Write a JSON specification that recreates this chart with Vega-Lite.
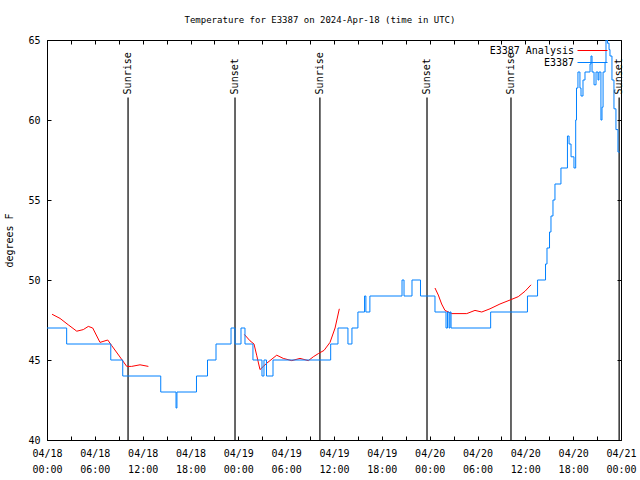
{
  "$schema": "https://vega.github.io/schema/vega-lite/v6.json",
  "width": 574,
  "height": 400,
  "autosize": {"type": "none"},
  "padding": {"left": 47, "top": 40, "right": 19, "bottom": 40},
  "background": "white",
  "title": {"text": "Temperature for E3387 on 2024-Apr-18 (time in UTC)", "font": "DejaVu Sans Mono", "fontSize": 9, "fontWeight": "normal", "color": "black", "anchor": "middle", "offset": 10, "dx": -14},
  "config": {
    "view": {"stroke": "black", "strokeWidth": 1},
    "axis": {"domainColor": "black", "tickColor": "black", "tickSize": -4, "labelColor": "black", "labelFont": "DejaVu Sans Mono", "labelFontSize": 10, "titleFont": "DejaVu Sans Mono", "titleFontSize": 10, "titleFontWeight": "normal", "titleColor": "black", "grid": false, "labelFlush": false, "labelOverlap": false, "labelBound": false},
    "legend": {"symbolType": "M-2.5,0H2.5M3.67,0", "symbolSize": 144, "symbolStrokeWidth": 1, "symbolFillColor": "transparent", "labelAlign": "right", "labelOffset": -25, "labelFont": "DejaVu Sans Mono", "labelFontSize": 10, "labelColor": "black", "rowPadding": 0, "padding": 0}
  },
  "datasets": {
    "blue": [
      {"s": "E3387", "t": "2024-04-18T00:00:00Z", "v": 47}, {"s": "E3387", "t": "2024-04-18T02:28:00Z", "v": 46}, {"s": "E3387", "t": "2024-04-18T08:00:00Z", "v": 45}, {"s": "E3387", "t": "2024-04-18T09:30:00Z", "v": 44},
      {"s": "E3387", "t": "2024-04-18T14:16:00Z", "v": 43}, {"s": "E3387", "t": "2024-04-18T16:11:00Z", "v": 42}, {"s": "E3387", "t": "2024-04-18T16:18:00Z", "v": 43}, {"s": "E3387", "t": "2024-04-18T18:45:00Z", "v": 44},
      {"s": "E3387", "t": "2024-04-18T20:08:00Z", "v": 45}, {"s": "E3387", "t": "2024-04-18T21:12:00Z", "v": 46}, {"s": "E3387", "t": "2024-04-18T23:05:00Z", "v": 47}, {"s": "E3387", "t": "2024-04-18T23:35:00Z", "v": 46},
      {"s": "E3387", "t": "2024-04-19T00:20:00Z", "v": 47}, {"s": "E3387", "t": "2024-04-19T00:50:00Z", "v": 46}, {"s": "E3387", "t": "2024-04-19T01:50:00Z", "v": 45}, {"s": "E3387", "t": "2024-04-19T02:58:00Z", "v": 44},
      {"s": "E3387", "t": "2024-04-19T03:13:00Z", "v": 45}, {"s": "E3387", "t": "2024-04-19T03:32:00Z", "v": 44}, {"s": "E3387", "t": "2024-04-19T04:21:00Z", "v": 45}, {"s": "E3387", "t": "2024-04-19T11:35:00Z", "v": 46},
      {"s": "E3387", "t": "2024-04-19T12:30:00Z", "v": 47}, {"s": "E3387", "t": "2024-04-19T13:45:00Z", "v": 46}, {"s": "E3387", "t": "2024-04-19T14:15:00Z", "v": 47}, {"s": "E3387", "t": "2024-04-19T15:00:00Z", "v": 48},
      {"s": "E3387", "t": "2024-04-19T15:50:00Z", "v": 49}, {"s": "E3387", "t": "2024-04-19T16:00:00Z", "v": 48}, {"s": "E3387", "t": "2024-04-19T16:30:00Z", "v": 49}, {"s": "E3387", "t": "2024-04-19T20:32:00Z", "v": 50},
      {"s": "E3387", "t": "2024-04-19T20:47:00Z", "v": 49}, {"s": "E3387", "t": "2024-04-19T21:47:00Z", "v": 50}, {"s": "E3387", "t": "2024-04-19T22:51:00Z", "v": 49}, {"s": "E3387", "t": "2024-04-20T00:40:00Z", "v": 48},
      {"s": "E3387", "t": "2024-04-20T02:03:00Z", "v": 47}, {"s": "E3387", "t": "2024-04-20T02:14:00Z", "v": 48}, {"s": "E3387", "t": "2024-04-20T02:26:00Z", "v": 47}, {"s": "E3387", "t": "2024-04-20T02:33:00Z", "v": 48},
      {"s": "E3387", "t": "2024-04-20T02:41:00Z", "v": 47}, {"s": "E3387", "t": "2024-04-20T07:39:00Z", "v": 48}, {"s": "E3387", "t": "2024-04-20T12:16:00Z", "v": 49}, {"s": "E3387", "t": "2024-04-20T13:32:00Z", "v": 50},
      {"s": "E3387", "t": "2024-04-20T14:32:00Z", "v": 51}, {"s": "E3387", "t": "2024-04-20T14:43:00Z", "v": 52}, {"s": "E3387", "t": "2024-04-20T15:02:00Z", "v": 53}, {"s": "E3387", "t": "2024-04-20T15:13:00Z", "v": 54},
      {"s": "E3387", "t": "2024-04-20T15:28:00Z", "v": 55}, {"s": "E3387", "t": "2024-04-20T15:43:00Z", "v": 56}, {"s": "E3387", "t": "2024-04-20T16:28:00Z", "v": 57}, {"s": "E3387", "t": "2024-04-20T17:17:00Z", "v": 59},
      {"s": "E3387", "t": "2024-04-20T17:29:00Z", "v": 58.5}, {"s": "E3387", "t": "2024-04-20T17:44:00Z", "v": 57.7}, {"s": "E3387", "t": "2024-04-20T18:06:00Z", "v": 57}, {"s": "E3387", "t": "2024-04-20T18:19:00Z", "v": 60},
      {"s": "E3387", "t": "2024-04-20T18:25:00Z", "v": 62}, {"s": "E3387", "t": "2024-04-20T18:36:00Z", "v": 63}, {"s": "E3387", "t": "2024-04-20T18:51:00Z", "v": 62}, {"s": "E3387", "t": "2024-04-20T18:59:00Z", "v": 61.5},
      {"s": "E3387", "t": "2024-04-20T19:14:00Z", "v": 62.5}, {"s": "E3387", "t": "2024-04-20T19:29:00Z", "v": 63}, {"s": "E3387", "t": "2024-04-20T20:07:00Z", "v": 63.5}, {"s": "E3387", "t": "2024-04-20T20:14:00Z", "v": 64},
      {"s": "E3387", "t": "2024-04-20T20:22:00Z", "v": 63}, {"s": "E3387", "t": "2024-04-20T20:37:00Z", "v": 62.2}, {"s": "E3387", "t": "2024-04-20T20:52:00Z", "v": 63}, {"s": "E3387", "t": "2024-04-20T21:07:00Z", "v": 62.5},
      {"s": "E3387", "t": "2024-04-20T21:14:00Z", "v": 63}, {"s": "E3387", "t": "2024-04-20T21:29:00Z", "v": 60}, {"s": "E3387", "t": "2024-04-20T21:37:00Z", "v": 60.8}, {"s": "E3387", "t": "2024-04-20T21:45:00Z", "v": 63},
      {"s": "E3387", "t": "2024-04-20T22:00:00Z", "v": 63.6}, {"s": "E3387", "t": "2024-04-20T22:07:00Z", "v": 65}, {"s": "E3387", "t": "2024-04-20T22:18:00Z", "v": 64.8}, {"s": "E3387", "t": "2024-04-20T22:30:00Z", "v": 64.4},
      {"s": "E3387", "t": "2024-04-20T22:37:00Z", "v": 64}, {"s": "E3387", "t": "2024-04-20T22:52:00Z", "v": 62.5}, {"s": "E3387", "t": "2024-04-20T23:07:00Z", "v": 60.7}, {"s": "E3387", "t": "2024-04-20T23:22:00Z", "v": 59.4},
      {"s": "E3387", "t": "2024-04-20T23:37:00Z", "v": 58}, {"s": "E3387", "t": "2024-04-20T23:50:00Z", "v": 58}
    ],
    "red": [
      {"s": "E3387 Analysis", "seg": "a", "t": "2024-04-18T00:38:00Z", "v": 47.86}, {"s": "E3387 Analysis", "seg": "a", "t": "2024-04-18T01:38:00Z", "v": 47.6}, {"s": "E3387 Analysis", "seg": "a", "t": "2024-04-18T02:40:00Z", "v": 47.2},
      {"s": "E3387 Analysis", "seg": "a", "t": "2024-04-18T03:44:00Z", "v": 46.8}, {"s": "E3387 Analysis", "seg": "a", "t": "2024-04-18T04:33:00Z", "v": 46.9}, {"s": "E3387 Analysis", "seg": "a", "t": "2024-04-18T05:11:00Z", "v": 47.1},
      {"s": "E3387 Analysis", "seg": "a", "t": "2024-04-18T05:44:00Z", "v": 47.0}, {"s": "E3387 Analysis", "seg": "a", "t": "2024-04-18T06:39:00Z", "v": 46.1}, {"s": "E3387 Analysis", "seg": "a", "t": "2024-04-18T07:37:00Z", "v": 46.25},
      {"s": "E3387 Analysis", "seg": "a", "t": "2024-04-18T08:07:00Z", "v": 45.9}, {"s": "E3387 Analysis", "seg": "a", "t": "2024-04-18T09:04:00Z", "v": 45.25}, {"s": "E3387 Analysis", "seg": "a", "t": "2024-04-18T10:00:00Z", "v": 44.6},
      {"s": "E3387 Analysis", "seg": "a", "t": "2024-04-18T10:37:00Z", "v": 44.6}, {"s": "E3387 Analysis", "seg": "a", "t": "2024-04-18T11:40:00Z", "v": 44.7}, {"s": "E3387 Analysis", "seg": "a", "t": "2024-04-18T12:43:00Z", "v": 44.6},
      {"s": "E3387 Analysis", "seg": "b", "t": "2024-04-19T00:45:00Z", "v": 46.6}, {"s": "E3387 Analysis", "seg": "b", "t": "2024-04-19T01:28:00Z", "v": 46.2}, {"s": "E3387 Analysis", "seg": "b", "t": "2024-04-19T01:58:00Z", "v": 46.0},
      {"s": "E3387 Analysis", "seg": "b", "t": "2024-04-19T02:18:00Z", "v": 45.3}, {"s": "E3387 Analysis", "seg": "b", "t": "2024-04-19T02:43:00Z", "v": 44.4}, {"s": "E3387 Analysis", "seg": "b", "t": "2024-04-19T03:08:00Z", "v": 44.6},
      {"s": "E3387 Analysis", "seg": "b", "t": "2024-04-19T03:34:00Z", "v": 44.8}, {"s": "E3387 Analysis", "seg": "b", "t": "2024-04-19T04:49:00Z", "v": 45.3}, {"s": "E3387 Analysis", "seg": "b", "t": "2024-04-19T05:38:00Z", "v": 45.1},
      {"s": "E3387 Analysis", "seg": "b", "t": "2024-04-19T06:42:00Z", "v": 44.96}, {"s": "E3387 Analysis", "seg": "b", "t": "2024-04-19T07:44:00Z", "v": 45.1}, {"s": "E3387 Analysis", "seg": "b", "t": "2024-04-19T08:47:00Z", "v": 44.96},
      {"s": "E3387 Analysis", "seg": "b", "t": "2024-04-19T09:24:00Z", "v": 45.2}, {"s": "E3387 Analysis", "seg": "b", "t": "2024-04-19T10:02:00Z", "v": 45.4}, {"s": "E3387 Analysis", "seg": "b", "t": "2024-04-19T10:45:00Z", "v": 45.6},
      {"s": "E3387 Analysis", "seg": "b", "t": "2024-04-19T11:30:00Z", "v": 46.1}, {"s": "E3387 Analysis", "seg": "b", "t": "2024-04-19T12:08:00Z", "v": 47.0}, {"s": "E3387 Analysis", "seg": "b", "t": "2024-04-19T12:40:00Z", "v": 48.2},
      {"s": "E3387 Analysis", "seg": "c", "t": "2024-04-20T00:40:00Z", "v": 49.5}, {"s": "E3387 Analysis", "seg": "c", "t": "2024-04-20T01:05:00Z", "v": 49.06}, {"s": "E3387 Analysis", "seg": "c", "t": "2024-04-20T01:30:00Z", "v": 48.5},
      {"s": "E3387 Analysis", "seg": "c", "t": "2024-04-20T01:55:00Z", "v": 48.1}, {"s": "E3387 Analysis", "seg": "c", "t": "2024-04-20T02:20:00Z", "v": 48.0}, {"s": "E3387 Analysis", "seg": "c", "t": "2024-04-20T02:46:00Z", "v": 47.9},
      {"s": "E3387 Analysis", "seg": "c", "t": "2024-04-20T04:39:00Z", "v": 47.9}, {"s": "E3387 Analysis", "seg": "c", "t": "2024-04-20T05:41:00Z", "v": 48.1}, {"s": "E3387 Analysis", "seg": "c", "t": "2024-04-20T06:32:00Z", "v": 48.0},
      {"s": "E3387 Analysis", "seg": "c", "t": "2024-04-20T07:34:00Z", "v": 48.2}, {"s": "E3387 Analysis", "seg": "c", "t": "2024-04-20T08:49:00Z", "v": 48.5}, {"s": "E3387 Analysis", "seg": "c", "t": "2024-04-20T10:05:00Z", "v": 48.75},
      {"s": "E3387 Analysis", "seg": "c", "t": "2024-04-20T11:07:00Z", "v": 48.96}, {"s": "E3387 Analysis", "seg": "c", "t": "2024-04-20T11:58:00Z", "v": 49.3}, {"s": "E3387 Analysis", "seg": "c", "t": "2024-04-20T12:43:00Z", "v": 49.7}
    ],
    "events": [
      {"t": "2024-04-18T10:10:00Z", "label": "Sunrise"}, {"t": "2024-04-18T23:35:00Z", "label": "Sunset"},
      {"t": "2024-04-19T10:14:00Z", "label": "Sunrise"}, {"t": "2024-04-19T23:40:00Z", "label": "Sunset"},
      {"t": "2024-04-20T10:12:00Z", "label": "Sunrise"}, {"t": "2024-04-20T23:46:00Z", "label": "Sunset"}
    ]
  },
  "layer": [
    {
      "data": {"name": "events"},
      "mark": {"type": "rule", "color": "black", "strokeWidth": 1.2},
      "encoding": {
        "x": {"field": "t", "type": "temporal", "axis": null},
        "y": {"datum": 40, "type": "quantitative", "axis": null},
        "y2": {"datum": 61.4}
      }
    },
    {
      "data": {"name": "events"},
      "mark": {"type": "text", "angle": 270, "align": "left", "baseline": "middle", "font": "DejaVu Sans Mono", "fontSize": 10, "color": "black"},
      "encoding": {
        "x": {"field": "t", "type": "temporal", "axis": null},
        "y": {"datum": 61.6, "type": "quantitative", "axis": null},
        "text": {"field": "label", "type": "nominal"}
      }
    },
    {
      "data": {"name": "red"},
      "mark": {"type": "line", "strokeWidth": 1, "clip": true},
      "encoding": {
        "x": {"field": "t", "type": "temporal", "title": null,
          "scale": {"type": "utc", "domain": [1713398400000, 1713657600000], "nice": false},
          "axis": {"orient": "bottom", "tickCount": 36, "labelExpr": "utchours(datum.value) % 6 == 0 ? [utcFormat(datum.value, '%m/%d'), utcFormat(datum.value, '%H:%M')] : ''", "labelLineHeight": 16, "labelPadding": 12}},
        "y": {"field": "v", "type": "quantitative", "title": "degrees F",
          "scale": {"domain": [40, 65], "nice": false, "zero": false},
          "axis": {"orient": "left", "values": [40, 45, 50, 55, 60, 65], "labelPadding": 11, "titlePadding": 13}},
        "detail": {"field": "seg", "type": "nominal"},
        "color": {"field": "s", "type": "nominal", "title": null, "scale": {"domain": ["E3387 Analysis", "E3387"], "range": ["#ff0000", "#0080ff"]},
          "legend": {"orient": "top-right", "offset": 4}}
      }
    },
    {
      "data": {"name": "blue"},
      "mark": {"type": "line", "strokeWidth": 1, "interpolate": "step-after", "clip": true},
      "encoding": {
        "x": {"field": "t", "type": "temporal", "title": null,
          "axis": {"orient": "top", "tickCount": 36, "labels": false, "domain": false}},
        "y": {"field": "v", "type": "quantitative", "title": null,
          "axis": {"orient": "right", "values": [40, 45, 50, 55, 60, 65], "labels": false, "domain": false}},
        "color": {"field": "s", "type": "nominal"}
      }
    }
  ]
}
